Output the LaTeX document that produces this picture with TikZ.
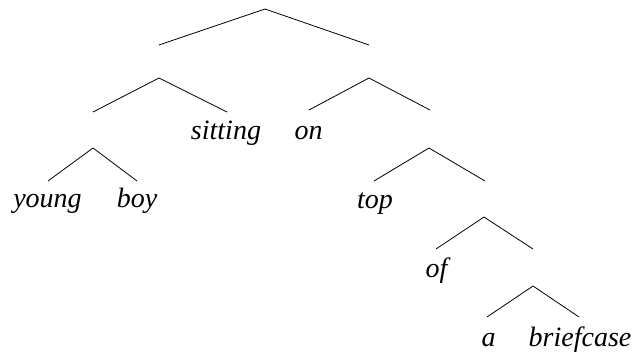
\documentclass[tikz,border=0pt]{standalone}
\usepackage{fontspec}
\setmainfont{Liberation Serif}
\begin{document}
\begin{tikzpicture}[x=1pt,y=-1pt,
  word/.style={anchor=base,inner sep=0pt,font=\fontsize{28}{30}\selectfont\itshape},
  branch/.style={line width=0.8pt,black}]
\useasboundingbox (0,0) rectangle (636,358);
% internal nodes (apexes)
\coordinate (root) at (265,9);
\coordinate (L) at (159,78);
\coordinate (R) at (369,78);
\coordinate (YB) at (93,148);
\coordinate (T) at (429,148);
\coordinate (O) at (484,217);
\coordinate (AB) at (533,286);
% branch ends
\coordinate (rootL) at (159,45);
\coordinate (rootR) at (369,45);
\coordinate (LL) at (93,112);
\coordinate (LR) at (227,112);
\coordinate (RL) at (309,110);
\coordinate (RR) at (430,110);
\coordinate (YBL) at (48,181);
\coordinate (YBR) at (137,181);
\coordinate (TL) at (374,181);
\coordinate (TR) at (485,181);
\coordinate (OL) at (436,249);
\coordinate (OR) at (533,249);
\coordinate (ABL) at (487,317);
\coordinate (ABR) at (579,317);
% words
\node[word] (young) at (47.5,207) {young};
\node[word] (boy) at (137,207) {boy};
\node[word] (sitting) at (226,140) {sitting};
\node[word] (on) at (308.5,140) {on};
\node[word] (top) at (375,208) {top};
\node[word] (of) at (436.5,277) {of};
\node[word] (a) at (488.5,346) {a};
\node[word] (briefcase) at (580,346) {briefcase};
% branches
\draw[branch] (rootL) -- (root) -- (rootR);
\draw[branch] (LL) -- (L) -- (LR);
\draw[branch] (RL) -- (R) -- (RR);
\draw[branch] (YBL) -- (YB) -- (YBR);
\draw[branch] (TL) -- (T) -- (TR);
\draw[branch] (OL) -- (O) -- (OR);
\draw[branch] (ABL) -- (AB) -- (ABR);
\end{tikzpicture}
\end{document}
